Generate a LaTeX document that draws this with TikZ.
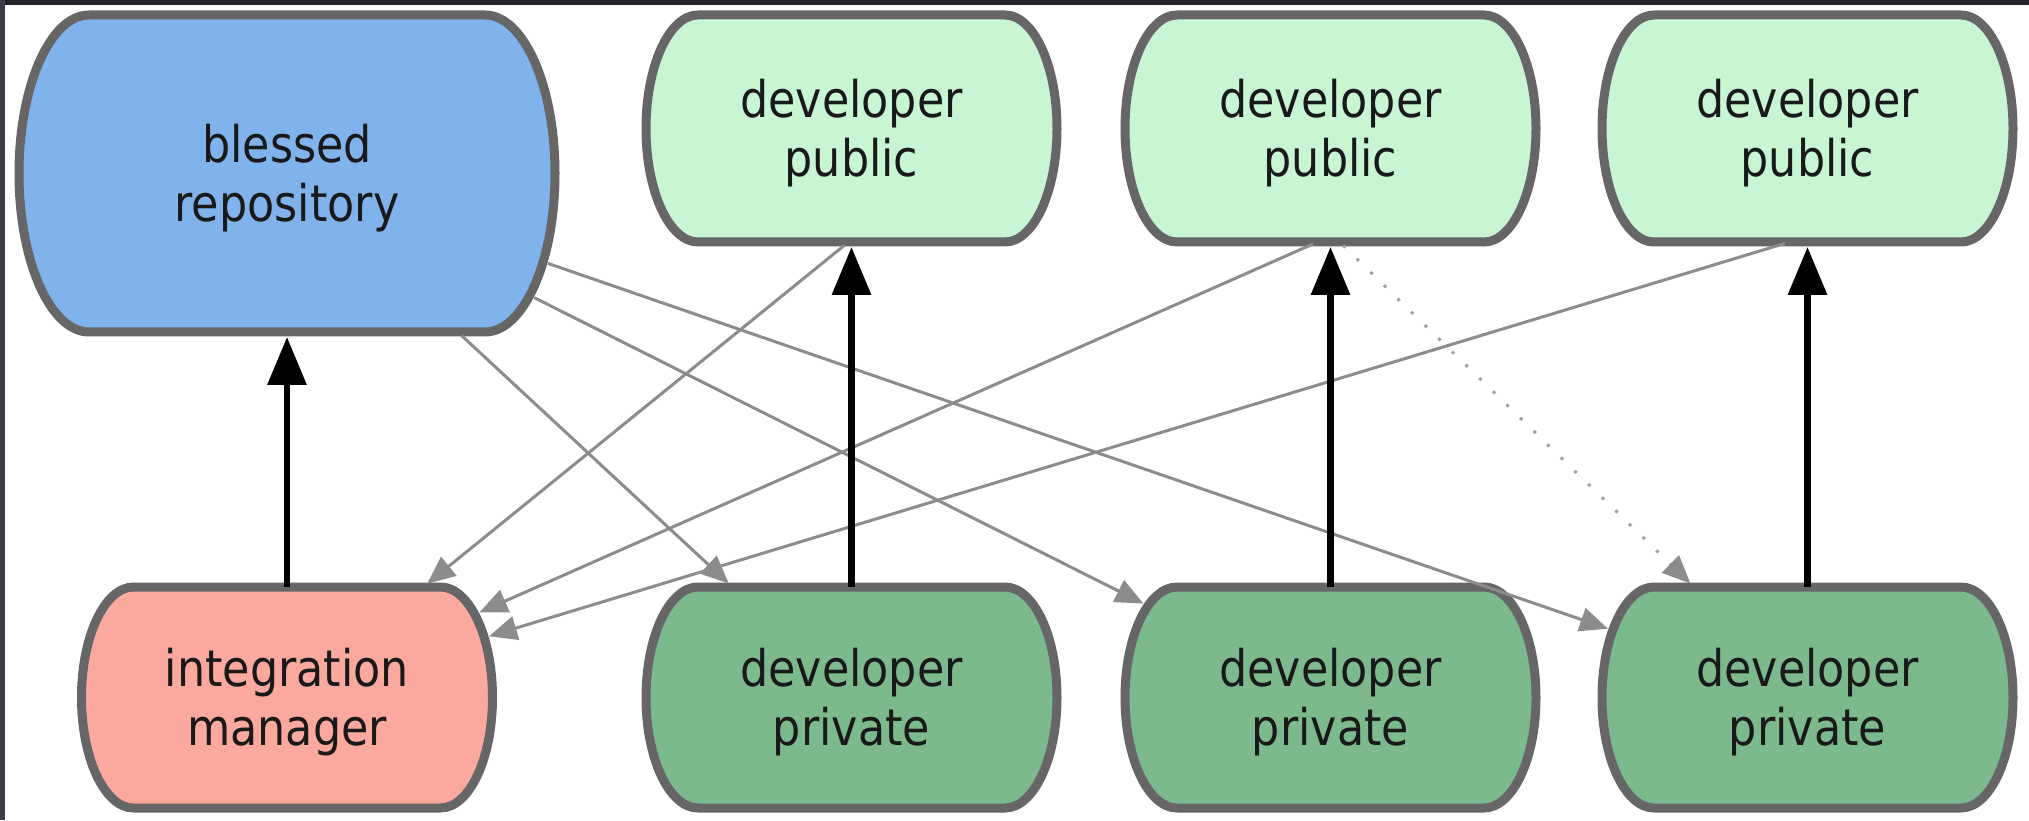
\documentclass[tikz,border=0pt]{standalone}
\usepackage{fontspec}
\setmainfont{DejaVu Sans}[FakeStretch=0.88]
\usetikzlibrary{arrows.meta,calc,intersections}
\pgfdeclarelayer{background}
\pgfsetlayers{background,main}
\definecolor{blessedfill}{RGB}{128,178,236}
\definecolor{pubfill}{RGB}{200,245,210}
\definecolor{privfill}{RGB}{124,185,140}
\definecolor{integfill}{RGB}{251,168,159}
\definecolor{borderc}{RGB}{102,102,102}
\definecolor{linegray}{RGB}{140,140,140}
\definecolor{dotgray}{RGB}{160,160,160}
\definecolor{txtc}{RGB}{25,25,25}
\definecolor{framec}{RGB}{34,34,40}
\definecolor{framecl}{RGB}{60,60,74}
\newcommand\boxfont{\fontsize{50.5pt}{59pt}\selectfont}
\newcommand\twolines[2]{\raisebox{0pt}[37pt][0pt]{#1}\\\raisebox{0pt}[0pt][0pt]{#2}}
\tikzset{
  box/.style={rectangle, inner sep=0pt, outer sep=0pt, align=center, text=txtc, font=\boxfont},
  boxline/.style={draw=borderc, line width=9pt, line join=round},
  grayarrow/.style={draw=linegray, line width=3pt, shorten <=5pt, shorten >=5pt,
     -{Triangle[length=28pt,width=24pt]}},
  dotarrow/.style={draw=dotgray, line width=3pt, dash pattern=on 3pt off 16pt, shorten <=5pt, shorten >=5pt,
     -{Triangle[length=28pt,width=24pt,fill=linegray,color=linegray]}},
  blackarrow/.style={draw=black, line width=6.5pt, shorten >=5pt,
     -{Triangle[length=48pt,width=38pt]}}
}
\newcommand\drawborder[4]{%
  \begin{pgfonlayer}{background}
  \path[boxline, fill=#4, name path global=B-#1]
    ($(#1.north west)+(#2,0)$) -- ($(#1.north east)+(-#2,0)$)
    arc[start angle=90, end angle=-90, x radius=#2, y radius=#3]
    -- ($(#1.south west)+(#2,0)$)
    arc[start angle=270, end angle=90, x radius=#2, y radius=#3] -- cycle;
  \end{pgfonlayer}}
\begin{document}
\begin{tikzpicture}[x=1pt,y=1pt]
\useasboundingbox (0,0) rectangle (2029,820);
\begin{pgfonlayer}{background}
\fill[white] (0,0) rectangle (2029,820);
\fill[framec] (0,815) rectangle (2029,820);
\fill[framecl] (0,0) rectangle (5,820);
\end{pgfonlayer}

% nodes
\node[box, minimum width=536pt, minimum height=317pt] (blessed) at (287,646.5) {\twolines{blessed}{repository}};
\node[box, minimum width=411pt, minimum height=227pt] (pub1) at (851.5,691.5) {\twolines{developer}{public}};
\node[box, minimum width=411pt, minimum height=227pt] (pub2) at (1330.5,691.5) {\twolines{developer}{public}};
\node[box, minimum width=411pt, minimum height=227pt] (pub3) at (1807.5,691.5) {\twolines{developer}{public}};
\node[box, minimum width=411pt, minimum height=221pt] (integ) at (287,122.5) {\twolines{integration}{manager}};
\node[box, minimum width=411pt, minimum height=221pt] (priv1) at (851.5,122.5) {\twolines{developer}{private}};
\node[box, minimum width=411pt, minimum height=221pt] (priv2) at (1330.5,122.5) {\twolines{developer}{private}};
\node[box, minimum width=411pt, minimum height=221pt] (priv3) at (1807.5,122.5) {\twolines{developer}{private}};

\drawborder{blessed}{70}{158.5}{blessedfill}
\drawborder{pub1}{52}{113.5}{pubfill}
\drawborder{pub2}{52}{113.5}{pubfill}
\drawborder{pub3}{52}{113.5}{pubfill}
\drawborder{integ}{52}{110.5}{integfill}
\drawborder{priv1}{52}{110.5}{privfill}
\drawborder{priv2}{52}{110.5}{privfill}
\drawborder{priv3}{52}{110.5}{privfill}

% blessed -> private (center to center, clipped at borders)
\path[name path=lA] (blessed.center) -- (priv3.center);
\path[name intersections={of=lA and B-blessed, by=A1}];
\path[name intersections={of=lA and B-priv3, by=A2}];
\draw[grayarrow] (A1) -- (A2);
\path[name path=lB] (blessed.center) -- (priv2.center);
\path[name intersections={of=lB and B-blessed, by=B1}];
\path[name intersections={of=lB and B-priv2, by=B2}];
\draw[grayarrow] (B1) -- (B2);
\path[name path=lC] (blessed.center) -- (priv1.center);
\path[name intersections={of=lC and B-blessed, by=C1}];
\path[name intersections={of=lC and B-priv1, by=C2}];
\draw[grayarrow] (C1) -- (C2);

% public -> integration manager
\coordinate (D1) at ($(pub1.south)+(-3,0)$);
\path[name path=lD] (D1) -- (integ.center);
\path[name intersections={of=lD and B-integ, by=D2}];
\draw[grayarrow] (D1) -- (D2);
\coordinate (E1) at ($(pub2.south)+(-13,0)$);
\path[name path=lE] (E1) -- (integ.center);
\path[name intersections={of=lE and B-integ, by=E2}];
\draw[grayarrow] (E1) -- (E2);
\coordinate (F1) at ($(pub3.south)+(-18,0)$);
\path[name path=lF] (F1) -- (integ.center);
\path[name intersections={of=lF and B-integ, by=F2}];
\draw[grayarrow] (F1) -- (F2);

% dotted public2 -> private3
\coordinate (G1) at ($(pub2.south)+(9,0)$);
\path[name path=lG] (G1) -- (priv3.center);
\path[name intersections={of=lG and B-priv3, by=G2}];
\draw[dotarrow] (G1) -- (G2);

% black push arrows
\draw[blackarrow] (integ.north) -- (blessed.south);
\draw[blackarrow] (priv1.north) -- (pub1.south);
\draw[blackarrow] (priv2.north) -- (pub2.south);
\draw[blackarrow] (priv3.north) -- (pub3.south);
\end{tikzpicture}
\end{document}
